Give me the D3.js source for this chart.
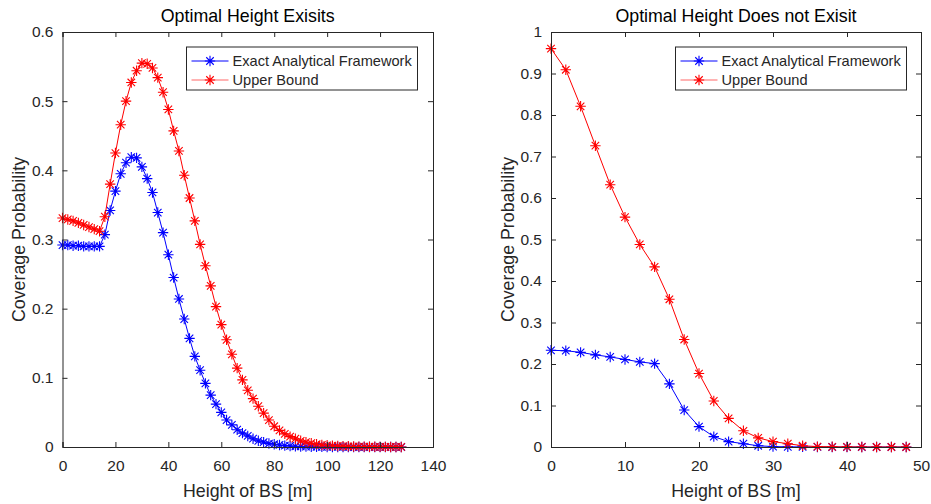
<!DOCTYPE html>
<html>
<head>
<meta charset="utf-8">
<script src="https://cdn.jsdelivr.net/npm/d3@7"></script>
<style>
  html, body { margin: 0; padding: 0; background: #fff; }
  svg text { font-family: "Liberation Sans", Arial, Helvetica, sans-serif; fill: #262626; }
</style>
</head>
<body>
<svg id="chart" width="931" height="504"></svg>
<script>
// ---------------- DATA ----------------
const leftHeights = d3.range(0, 129, 2); // 0..128 m
const leftExact = [
  0.292, 0.292, 0.291, 0.291, 0.290, 0.290, 0.290, 0.290, 0.307, 0.342,
  0.370, 0.395, 0.411, 0.419, 0.418, 0.405, 0.388, 0.368, 0.339, 0.310,
  0.278, 0.245, 0.214, 0.185, 0.157, 0.131, 0.111, 0.092, 0.075, 0.062,
  0.050, 0.039, 0.032, 0.025, 0.020, 0.016, 0.012, 0.009, 0.007, 0.005,
  0.004, 0.003, 0.002, 0.0015, 0.001, 0.0008, 0.0006, 0.0004, 0.0003, 0.0002,
  0.0001, 0.0001, 0.0001, 0.0001, 0, 0, 0, 0, 0, 0,
  0, 0, 0, 0, 0
];
const leftUpper = [
  0.331, 0.329, 0.327, 0.324, 0.321, 0.318, 0.315, 0.312, 0.333, 0.380,
  0.425, 0.466, 0.500, 0.527, 0.544, 0.555, 0.554, 0.548, 0.534, 0.513,
  0.488, 0.457, 0.428, 0.393, 0.360, 0.327, 0.293, 0.262, 0.233, 0.203,
  0.177, 0.155, 0.134, 0.114, 0.097, 0.082, 0.070, 0.059, 0.049, 0.039,
  0.030, 0.024, 0.019, 0.015, 0.012, 0.009, 0.007, 0.0055, 0.004, 0.003,
  0.0025, 0.002, 0.0015, 0.0012, 0.001, 0.0008, 0.0006, 0.0005, 0.0004, 0.0003,
  0.0002, 0.0002, 0.0001, 0.0001, 0.0001
];
const rightHeights = d3.range(0, 49, 2); // 0..48 m
const rightExact = [
  0.233, 0.232, 0.228, 0.222, 0.217, 0.211, 0.205, 0.201, 0.152, 0.089,
  0.049, 0.025, 0.013, 0.008, 0.003, 0.001, 0.0005, 0.0002, 0.0001, 0,
  0, 0, 0, 0, 0
];
const rightUpper = [
  0.960, 0.909, 0.821, 0.726, 0.632, 0.554, 0.488, 0.434, 0.356, 0.259,
  0.177, 0.111, 0.069, 0.039, 0.022, 0.013, 0.008, 0.003, 0.001, 0.0005,
  0.0002, 0.0001, 0, 0, 0
];
const leftXTicks = [0, 20, 40, 60, 80, 100, 120, 140];
const leftYTicks = [0, 0.1, 0.2, 0.3, 0.4, 0.5, 0.6];
const rightXTicks = [0, 10, 20, 30, 40, 50];
const rightYTicks = [0, 0.1, 0.2, 0.3, 0.4, 0.5, 0.6, 0.7, 0.8, 0.9, 1];
const seriesNames = ["Exact Analytical Framework", "Upper Bound"];
const seriesColors = ["#0000ff", "#ff0000"];
const titles = ["Optimal Height Exisits", "Optimal Height Does not Exisit"];
const xLabel = "Height of BS [m]";
const yLabel = "Coverage Probability";

// ---------------- DRAW ----------------
const svg = d3.select("#chart");
const axisColor = "#262626";
const MR = 5.2; // marker arm length

function asterisk(g, cx, cy, r, color) {
  const d = r * 0.72;
  const p = `M${cx - r},${cy}L${cx + r},${cy}M${cx},${cy - r}L${cx},${cy + r}` +
            `M${cx - d},${cy - d}L${cx + d},${cy + d}M${cx - d},${cy + d}L${cx + d},${cy - d}`;
  g.append("path").attr("d", p).attr("stroke", color).attr("stroke-width", 1.1).attr("fill", "none");
}

function panel(cfg) {
  const x = d3.scaleLinear().domain(cfg.xDomain).range([cfg.left, cfg.right]);
  const y = d3.scaleLinear().domain(cfg.yDomain).range([cfg.bottom, cfg.top]);
  const g = svg.append("g");

  // series
  const series = [cfg.exact, cfg.upper];
  series.forEach((vals, si) => {
    const pts = cfg.heights.map((h, i) => [h, vals[i]]);
    const line = d3.line().x(d => x(d[0])).y(d => y(d[1]));
    g.append("path").datum(pts).attr("d", line)
      .attr("fill", "none").attr("stroke", seriesColors[si]).attr("stroke-width", 1);
    const mg = g.append("g");
    pts.forEach(d => asterisk(mg, x(d[0]), y(d[1]), MR, seriesColors[si]));
  });

  // axes (MATLAB style, inward ticks, box)
  const tl = 5;
  const fmt = d => d3.format("~g")(d);
  const ax = g.append("g").attr("transform", `translate(0,${cfg.bottom})`)
    .call(d3.axisBottom(x).tickValues(cfg.xTicks).tickSize(-tl).tickPadding(13).tickFormat(fmt));
  const axT = g.append("g").attr("transform", `translate(0,${cfg.top})`)
    .call(d3.axisTop(x).tickValues(cfg.xTicks).tickSize(-tl).tickFormat(""));
  const ay = g.append("g").attr("transform", `translate(${cfg.left},0)`)
    .call(d3.axisLeft(y).tickValues(cfg.yTicks).tickSize(-tl).tickPadding(9).tickFormat(fmt));
  const ayR = g.append("g").attr("transform", `translate(${cfg.right},0)`)
    .call(d3.axisRight(y).tickValues(cfg.yTicks).tickSize(-tl).tickFormat(""));
  [ax, axT, ay, ayR].forEach(a => {
    a.select(".domain").attr("stroke", axisColor).attr("stroke-width", 1);
    a.selectAll(".tick line").attr("stroke", axisColor);
    a.selectAll(".tick text").style("font-size", "15.5px").attr("fill", axisColor);
  });

  // titles and labels
  const cx = (cfg.left + cfg.right) / 2;
  g.append("text").attr("x", cx).attr("y", 22).attr("text-anchor", "middle")
    .style("font-size", "17.8px").style("fill", "#000").text(cfg.title);
  g.append("text").attr("x", cx).attr("y", 497).attr("text-anchor", "middle")
    .style("font-size", "17.8px").text(xLabel);
  g.append("text").attr("transform", `translate(${cfg.left - 37.5},${(cfg.top + cfg.bottom) / 2}) rotate(-90)`)
    .attr("text-anchor", "middle").style("font-size", "17.8px").text(yLabel);

  // legend
  const lx = cfg.legendX, ly = 47, lw = 231, lh = 43;
  const lg = g.append("g");
  lg.append("rect").attr("x", lx).attr("y", ly).attr("width", lw).attr("height", lh)
    .attr("fill", "#fff").attr("stroke", axisColor).attr("stroke-width", 1);
  seriesNames.forEach((name, i) => {
    const yy = ly + 14 + i * 19;
    lg.append("line").attr("x1", lx + 5).attr("x2", lx + 42).attr("y1", yy).attr("y2", yy)
      .attr("stroke", seriesColors[i]).attr("stroke-width", 1).attr("stroke-opacity", i === 1 ? 0.6 : 1);
    asterisk(lg, lx + 23.5, yy, MR, seriesColors[i]);
    lg.append("text").attr("x", lx + 46).attr("y", yy + 5.2).style("font-size", "14.6px").text(name);
  });
}

panel({
  left: 62.5, right: 433, top: 32, bottom: 447,
  xDomain: [0, 140], yDomain: [0, 0.6],
  heights: leftHeights, exact: leftExact, upper: leftUpper,
  xTicks: leftXTicks, yTicks: leftYTicks, title: titles[0], legendX: 186.5
});
panel({
  left: 551, right: 921, top: 32, bottom: 447,
  xDomain: [0, 50], yDomain: [0, 1],
  heights: rightHeights, exact: rightExact, upper: rightUpper,
  xTicks: rightXTicks, yTicks: rightYTicks, title: titles[1], legendX: 675.5
});
</script>
</body>
</html>
